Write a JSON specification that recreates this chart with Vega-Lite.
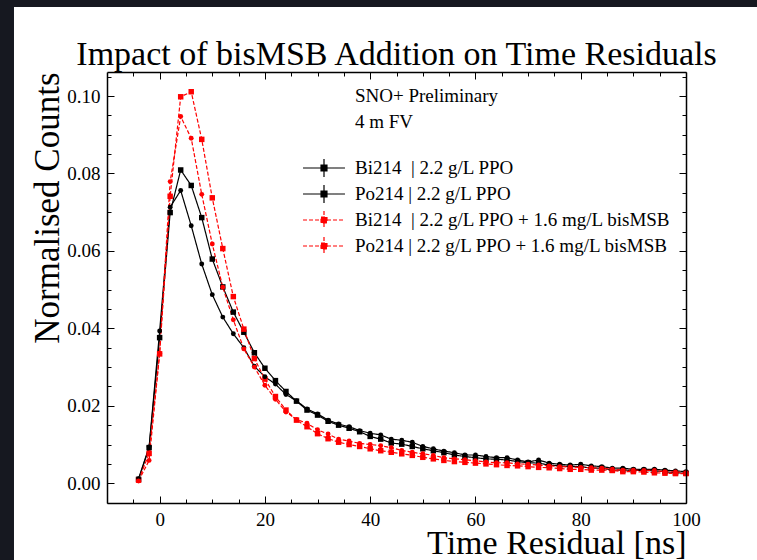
{
  "$schema": "https://vega.github.io/schema/vega-lite/v6.json",
  "width": 579,
  "height": 431,
  "autosize": {"type": "none"},
  "padding": {"left": 107, "top": 72, "right": 71, "bottom": 57},
  "background": "#161820",
  "title": {"text": "Impact of bisMSB Addition on Time Residuals", "font": "Liberation Serif", "fontSize": 34, "fontWeight": "normal", "color": "black", "anchor": "middle", "frame": "group", "offset": -65, "zindex": 2},
  "config": {
    "view": {"stroke": null, "fill": null},
    "axis": {"labelFont": "Liberation Serif", "labelFontSize": 19, "labelColor": "black", "titleFont": "Liberation Serif", "titleFontSize": 34, "titleFontWeight": "normal", "titleColor": "black", "tickColor": "black", "tickWidth": 1, "domainColor": "black", "domainWidth": 1.5, "grid": false, "labelFlush": false, "labelOverlap": false}
  },
  "datasets": {
    "d": [
      {"t": -4, "biP": 0.0010, "poP": 0.0012, "biB": 0.0008, "poB": 0.0006},
      {"t": -2, "biP": 0.0092, "poP": 0.0094, "biB": 0.0077, "poB": 0.0059},
      {"t": 0, "biP": 0.0376, "poP": 0.0393, "biB": 0.0334, "poB": 0.0336},
      {"t": 2, "biP": 0.0699, "poP": 0.0713, "biB": 0.0741, "poB": 0.0779},
      {"t": 4, "biP": 0.0809, "poP": 0.0756, "biB": 0.0998, "poB": 0.0947},
      {"t": 6, "biP": 0.0769, "poP": 0.0665, "biB": 0.1011, "poB": 0.0891},
      {"t": 8, "biP": 0.0686, "poP": 0.0566, "biB": 0.0888, "poB": 0.0746},
      {"t": 10, "biP": 0.0579, "poP": 0.0487, "biB": 0.0737, "poB": 0.0618},
      {"t": 12, "biP": 0.0507, "poP": 0.0429, "biB": 0.0606, "poB": 0.0506},
      {"t": 14, "biP": 0.0442, "poP": 0.0386, "biB": 0.0482, "poB": 0.0422},
      {"t": 16, "biP": 0.0390, "poP": 0.0350, "biB": 0.0398, "poB": 0.0347},
      {"t": 18, "biP": 0.0337, "poP": 0.0302, "biB": 0.0322, "poB": 0.0300},
      {"t": 20, "biP": 0.0297, "poP": 0.0275, "biB": 0.0269, "poB": 0.0253},
      {"t": 22, "biP": 0.0265, "poP": 0.0256, "biB": 0.0224, "poB": 0.0217},
      {"t": 24, "biP": 0.0237, "poP": 0.0229, "biB": 0.0189, "poB": 0.0184},
      {"t": 26, "biP": 0.0212, "poP": 0.0213, "biB": 0.0163, "poB": 0.0165},
      {"t": 28, "biP": 0.0189, "poP": 0.0192, "biB": 0.0146, "poB": 0.0155},
      {"t": 30, "biP": 0.0176, "poP": 0.0179, "biB": 0.0128, "poB": 0.0138},
      {"t": 32, "biP": 0.0160, "poP": 0.0163, "biB": 0.0115, "poB": 0.0127},
      {"t": 34, "biP": 0.0150, "poP": 0.0153, "biB": 0.0106, "poB": 0.0114},
      {"t": 36, "biP": 0.0142, "poP": 0.0146, "biB": 0.0100, "poB": 0.0109},
      {"t": 38, "biP": 0.0133, "poP": 0.0136, "biB": 0.0095, "poB": 0.0103},
      {"t": 40, "biP": 0.0121, "poP": 0.0129, "biB": 0.0089, "poB": 0.0100},
      {"t": 42, "biP": 0.0114, "poP": 0.0125, "biB": 0.0084, "poB": 0.0097},
      {"t": 44, "biP": 0.0104, "poP": 0.0114, "biB": 0.0080, "poB": 0.0092},
      {"t": 46, "biP": 0.0101, "poP": 0.0111, "biB": 0.0076, "poB": 0.0085},
      {"t": 48, "biP": 0.0095, "poP": 0.0106, "biB": 0.0072, "poB": 0.0080},
      {"t": 50, "biP": 0.0089, "poP": 0.0095, "biB": 0.0067, "poB": 0.0076},
      {"t": 52, "biP": 0.0084, "poP": 0.0089, "biB": 0.0063, "poB": 0.0072},
      {"t": 54, "biP": 0.0079, "poP": 0.0083, "biB": 0.0059, "poB": 0.0066},
      {"t": 56, "biP": 0.0073, "poP": 0.0079, "biB": 0.0056, "poB": 0.0063},
      {"t": 58, "biP": 0.0069, "poP": 0.0073, "biB": 0.0054, "poB": 0.0061},
      {"t": 60, "biP": 0.0066, "poP": 0.0073, "biB": 0.0052, "poB": 0.0058},
      {"t": 62, "biP": 0.0063, "poP": 0.0069, "biB": 0.0050, "poB": 0.0055},
      {"t": 64, "biP": 0.0062, "poP": 0.0066, "biB": 0.0048, "poB": 0.0053},
      {"t": 66, "biP": 0.0060, "poP": 0.0066, "biB": 0.0046, "poB": 0.0053},
      {"t": 68, "biP": 0.0056, "poP": 0.0060, "biB": 0.0045, "poB": 0.0050},
      {"t": 70, "biP": 0.0053, "poP": 0.0055, "biB": 0.0043, "poB": 0.0049},
      {"t": 72, "biP": 0.0052, "poP": 0.0060, "biB": 0.0041, "poB": 0.0047},
      {"t": 74, "biP": 0.0047, "poP": 0.0052, "biB": 0.0040, "poB": 0.0045},
      {"t": 76, "biP": 0.0045, "poP": 0.0049, "biB": 0.0038, "poB": 0.0043},
      {"t": 78, "biP": 0.0043, "poP": 0.0047, "biB": 0.0036, "poB": 0.0042},
      {"t": 80, "biP": 0.0043, "poP": 0.0049, "biB": 0.0036, "poB": 0.0041},
      {"t": 82, "biP": 0.0039, "poP": 0.0045, "biB": 0.0034, "poB": 0.0040},
      {"t": 84, "biP": 0.0039, "poP": 0.0043, "biB": 0.0034, "poB": 0.0039},
      {"t": 86, "biP": 0.0034, "poP": 0.0039, "biB": 0.0033, "poB": 0.0036},
      {"t": 88, "biP": 0.0034, "poP": 0.0039, "biB": 0.0030, "poB": 0.0034},
      {"t": 90, "biP": 0.0033, "poP": 0.0036, "biB": 0.0030, "poB": 0.0034},
      {"t": 92, "biP": 0.0033, "poP": 0.0036, "biB": 0.0029, "poB": 0.0033},
      {"t": 94, "biP": 0.0032, "poP": 0.0036, "biB": 0.0027, "poB": 0.0033},
      {"t": 96, "biP": 0.0030, "poP": 0.0034, "biB": 0.0026, "poB": 0.0030},
      {"t": 98, "biP": 0.0027, "poP": 0.0032, "biB": 0.0025, "poB": 0.0029},
      {"t": 100, "biP": 0.0026, "poP": 0.0030, "biB": 0.0025, "poB": 0.0027}
    ]
  },
  "layer": [
    {
      "data": {"values": [{}]},
      "mark": {"type": "rect", "fill": "white", "opacity": 1, "clip": false},
      "encoding": {
        "x": {"datum": -27.67, "type": "quantitative", "scale": {"domain": [-10, 100], "nice": false, "zero": false}, "axis": null},
        "x2": {"datum": 300},
        "y": {"datum": 0.123, "type": "quantitative", "scale": {"domain": [-0.0051, 0.1062], "nice": false, "zero": false}, "axis": null},
        "y2": {"datum": -0.2}
      }
    },
    {
      "data": {"name": "d"},
      "transform": [{"fold": ["biP", "poP", "biB", "poB"], "as": ["s", "v"]}],
      "mark": {"type": "line", "strokeWidth": 1.2},
      "encoding": {
        "x": {"field": "t", "type": "quantitative", "scale": {"domain": [-10, 100], "nice": false, "zero": false},
              "axis": {"orient": "bottom", "values": [0, 20, 40, 60, 80, 100], "format": "d", "tickSize": -7, "labelPadding": 14, "domain": true, "title": "Time Residual [ns]", "titleAnchor": "end", "titlePadding": -3, "zindex": 2}},
        "y": {"field": "v", "type": "quantitative", "scale": {"domain": [-0.0051, 0.1062], "nice": false, "zero": false},
              "axis": {"orient": "left", "values": [0, 0.02, 0.04, 0.06, 0.08, 0.1], "format": ".2f", "tickSize": -7, "labelPadding": 14, "domain": true, "title": "Normalised Counts", "titleFontSize": 35, "titleAnchor": "end", "titlePadding": 1, "zindex": 2}},
        "color": {"field": "s", "type": "nominal",
                  "scale": {"domain": ["biP", "poP", "biB", "poB"], "range": ["black", "black", "red", "red"]},
                  "legend": {
                    "orient": "none", "legendX": 207, "legendY": 86, "title": null, "padding": 0, "zindex": 2,
                    "symbolType": "M-2.33,0H2.33M0,-1V1M-0.33,-0.33H0.33V0.33H-0.33Z",
                    "symbolSize": 324, "symbolStrokeWidth": 1.2, "symbolOpacity": 1, "labelOffset": 21, "rowPadding": 2,
                    "labelFont": "Liberation Serif", "labelFontSize": 19, "labelColor": "black", "labelLimit": 0,
                    "labelExpr": "datum.value == 'biP' ? 'Bi214\u00a0 | 2.2 g/L PPO' : datum.value == 'poP' ? 'Po214 | 2.2 g/L PPO' : datum.value == 'biB' ? 'Bi214\u00a0 | 2.2 g/L PPO + 1.6 mg/L bisMSB' : 'Po214 | 2.2 g/L PPO + 1.6 mg/L bisMSB'"
                  }},
        "strokeDash": {"field": "s", "type": "nominal",
                       "scale": {"domain": ["biP", "poP", "biB", "poB"], "range": [[1, 0], [1, 0], [4, 2], [4, 2]]},
                       "legend": null}
      }
    },
    {
      "data": {"name": "d"},
      "transform": [{"fold": ["biP", "biB"], "as": ["s", "v"]}],
      "mark": {"type": "square", "size": 30, "opacity": 1},
      "encoding": {
        "x": {"field": "t", "type": "quantitative", "scale": {"domain": [-10, 100], "nice": false, "zero": false},
              "axis": {"orient": "bottom", "values": [-5, 0, 5, 10, 15, 20, 25, 30, 35, 40, 45, 50, 55, 60, 65, 70, 75, 80, 85, 90, 95], "tickSize": -4, "labels": false, "title": null, "domain": false, "zindex": 2}},
        "y": {"field": "v", "type": "quantitative", "scale": {"domain": [-0.0051, 0.1062], "nice": false, "zero": false},
              "axis": {"orient": "left", "values": [-0.005, 0, 0.005, 0.01, 0.015, 0.02, 0.025, 0.03, 0.035, 0.04, 0.045, 0.05, 0.055, 0.06, 0.065, 0.07, 0.075, 0.08, 0.085, 0.09, 0.095, 0.1, 0.105], "tickSize": -4, "labels": false, "title": null, "domain": false, "zindex": 2}},
        "color": {"field": "s", "type": "nominal", "scale": {"domain": ["biP", "poP", "biB", "poB"], "range": ["black", "black", "red", "red"]}}
      }
    },
    {
      "data": {"name": "d"},
      "transform": [{"fold": ["poP", "poB"], "as": ["s", "v"]}],
      "mark": {"type": "circle", "size": 24, "opacity": 1},
      "encoding": {
        "x": {"field": "t", "type": "quantitative", "scale": {"domain": [-10, 100], "nice": false, "zero": false},
              "axis": {"orient": "top", "values": [0, 20, 40, 60, 80, 100], "tickSize": -7, "labels": false, "title": null, "domain": true, "zindex": 2}},
        "y": {"field": "v", "type": "quantitative", "scale": {"domain": [-0.0051, 0.1062], "nice": false, "zero": false},
              "axis": {"orient": "right", "values": [0, 0.02, 0.04, 0.06, 0.08, 0.1], "tickSize": -7, "labels": false, "title": null, "domain": true, "zindex": 2}},
        "color": {"field": "s", "type": "nominal", "scale": {"domain": ["biP", "poP", "biB", "poB"], "range": ["black", "black", "red", "red"]}}
      }
    },
    {
      "data": {"values": [{}]},
      "mark": {"type": "text", "align": "left", "baseline": "alphabetic", "font": "Liberation Serif", "fontSize": 19, "lineHeight": 26, "color": "black"},
      "encoding": {
        "x": {"datum": 37.1, "type": "quantitative", "scale": {"domain": [-10, 100], "nice": false, "zero": false},
              "axis": {"orient": "top", "values": [-5, 0, 5, 10, 15, 20, 25, 30, 35, 40, 45, 50, 55, 60, 65, 70, 75, 80, 85, 90, 95], "tickSize": -4, "labels": false, "title": null, "domain": false, "zindex": 2}},
        "y": {"datum": 0.0985, "type": "quantitative", "scale": {"domain": [-0.0051, 0.1062], "nice": false, "zero": false},
              "axis": {"orient": "right", "values": [-0.005, 0, 0.005, 0.01, 0.015, 0.02, 0.025, 0.03, 0.035, 0.04, 0.045, 0.05, 0.055, 0.06, 0.065, 0.07, 0.075, 0.08, 0.085, 0.09, 0.095, 0.1, 0.105], "tickSize": -4, "labels": false, "title": null, "domain": false, "zindex": 2}},
        "text": {"value": ["SNO+ Preliminary", "4 m FV"]}
      }
    }
  ],
  "resolve": {"axis": {"x": "independent", "y": "independent"}}
}
